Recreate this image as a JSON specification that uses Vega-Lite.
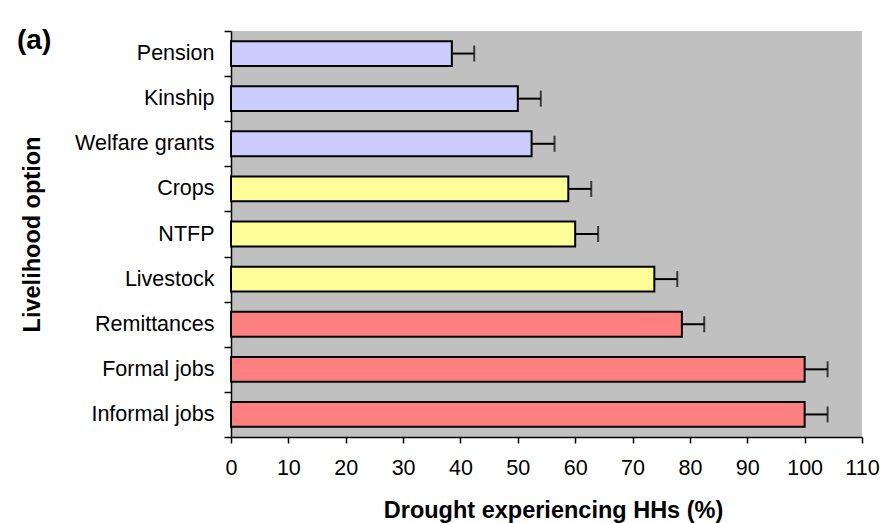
{
  "$schema": "https://vega.github.io/schema/vega-lite/v6.json",
  "width": 631,
  "height": 406,
  "autosize": {"type": "none"},
  "padding": {"left": 231, "top": 31, "right": 27, "bottom": 86},
  "background": "white",
  "title": {"text": "(a)", "anchor": "start", "frame": "group", "fontSize": 28, "font": "Liberation Sans", "fontWeight": "bold", "color": "black", "dx": -214, "dy": 35, "offset": 0},
  "config": {
    "view": {"fill": "#C0C0C0", "stroke": null},
    "font": "Liberation Sans",
    "axis": {"labelFont": "Liberation Sans", "titleFont": "Liberation Sans", "labelColor": "black", "titleColor": "black", "domainColor": "black", "tickColor": "black", "grid": false, "labelFontSize": 21.5, "titleFontSize": 23.5, "titleFontWeight": "bold"}
  },
  "data": {
    "values": [
      {"option": "Pension", "group": "low", "pct": 38.5, "upper": 42.4},
      {"option": "Kinship", "group": "low", "pct": 50.0, "upper": 54.0},
      {"option": "Welfare grants", "group": "low", "pct": 52.4, "upper": 56.4},
      {"option": "Crops", "group": "mid", "pct": 58.8, "upper": 62.8},
      {"option": "NTFP", "group": "mid", "pct": 60.0, "upper": 64.0},
      {"option": "Livestock", "group": "mid", "pct": 73.8, "upper": 77.8},
      {"option": "Remittances", "group": "high", "pct": 78.6, "upper": 82.5},
      {"option": "Formal jobs", "group": "high", "pct": 100.0, "upper": 104.0},
      {"option": "Informal jobs", "group": "high", "pct": 100.0, "upper": 104.0}
    ]
  },
  "encoding": {
    "y": {
      "field": "option", "type": "nominal", "sort": null,
      "scale": {"paddingInner": 0, "paddingOuter": 0},
      "title": "Livelihood option",
      "axis": {"tickBand": "extent", "bandPosition": 0, "tickSize": 7, "labelPadding": 10, "titlePadding": 30, "domainWidth": 1.5, "tickWidth": 1.5}
    }
  },
  "layer": [
    {
      "mark": {"type": "bar", "stroke": "black", "strokeWidth": 2, "height": {"band": 0.55}},
      "encoding": {
        "x": {
          "field": "pct", "type": "quantitative",
          "scale": {"domain": [0, 110], "nice": false},
          "title": "Drought experiencing HHs (%)",
          "axis": {"values": [0, 10, 20, 30, 40, 50, 60, 70, 80, 90, 100, 110], "labelFlush": false, "tickSize": 6, "labelPadding": 14, "titlePadding": 20, "titleX": 322, "domainWidth": 1.5, "tickWidth": 1.5}
        },
        "color": {
          "field": "group", "type": "nominal",
          "scale": {"domain": ["low", "mid", "high"], "range": ["#CCCCFF", "#FFFF99", "#FF8080"]},
          "legend": null
        }
      }
    },
    {
      "mark": {"type": "rule", "strokeWidth": 2, "color": "black"},
      "encoding": {
        "x": {"field": "pct", "type": "quantitative"},
        "x2": {"field": "upper"}
      }
    },
    {
      "mark": {"type": "tick", "thickness": 2, "size": 16, "color": "black"},
      "encoding": {
        "x": {"field": "upper", "type": "quantitative"}
      }
    }
  ]
}
